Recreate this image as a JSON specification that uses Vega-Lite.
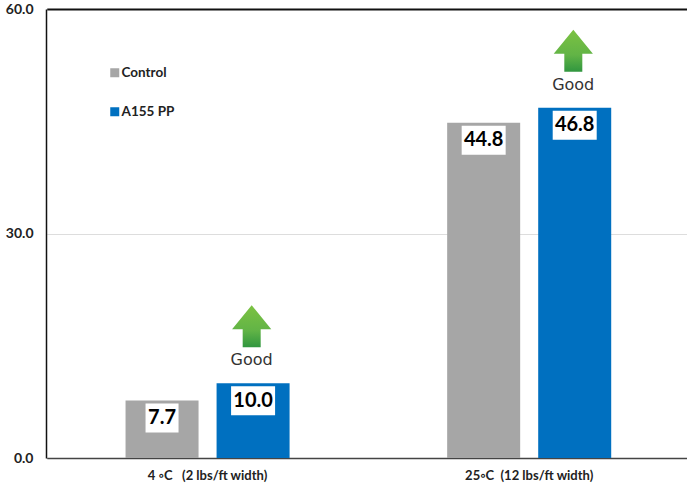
{
  "$schema": "https://vega.github.io/schema/vega-lite/v6.json",
  "width": 641,
  "height": 449,
  "autosize": {"type": "none"},
  "padding": {"left": 46, "top": 9, "right": 0, "bottom": 27},
  "background": "white",
  "view": {"stroke": null},
  "config": {"font": "Lato"},
  "data": {
    "values": [
      {"condition": "4 ◦C\u00a0\u00a0\u00a0(2 lbs/ft width)", "series": "Control", "value": 7.7},
      {"condition": "4 ◦C\u00a0\u00a0\u00a0(2 lbs/ft width)", "series": "A155 PP", "value": 10.0},
      {"condition": "25◦C\u00a0\u00a0(12 lbs/ft width)", "series": "Control", "value": 44.8},
      {"condition": "25◦C\u00a0\u00a0(12 lbs/ft width)", "series": "A155 PP", "value": 46.8}
    ]
  },
  "encoding": {
    "x": {
      "field": "condition",
      "type": "nominal",
      "sort": null,
      "title": null,
      "scale": {"range": [0.75, 644], "paddingInner": 0, "paddingOuter": 0},
      "axis": {
        "labelAngle": 0,
        "labelFontSize": 13,
        "labelFontWeight": "bold",
        "labelColor": "#222222",
        "labelPadding": 11,
        "ticks": false,
        "domainColor": "#444444",
        "domainWidth": 1.5
      }
    },
    "xOffset": {
      "field": "series",
      "type": "nominal",
      "scale": {"domain": ["Control", "A155 PP"], "paddingInner": 0.198, "paddingOuter": 0.8655}
    },
    "y": {
      "field": "value",
      "type": "quantitative",
      "title": null,
      "scale": {"domain": [0, 60], "nice": false},
      "axis": {
        "values": [0, 30, 60],
        "format": ".1f",
        "labelFontSize": 14,
        "labelFontWeight": "bold",
        "labelColor": "#222222",
        "labelPadding": 13,
        "ticks": false,
        "domainColor": "#111111",
        "domainWidth": 1.5,
        "grid": true,
        "gridColor": {"condition": {"test": "datum.value === 60", "value": "#111111"}, "value": "#dddddd"},
        "gridWidth": {"condition": {"test": "datum.value === 60", "value": 2}, "value": 1}
      }
    }
  },
  "layer": [
    {
      "mark": {"type": "bar"},
      "encoding": {
        "color": {
          "field": "series",
          "type": "nominal",
          "scale": {"domain": ["Control", "A155 PP"], "range": ["#a6a6a6", "#0070c0"]},
          "legend": {
            "title": null,
            "orient": "none",
            "legendX": 62,
            "legendY": 57,
            "symbolType": "square",
            "symbolSize": 81,
            "labelFontSize": 13.5,
            "labelFontWeight": "bold",
            "labelColor": "#222222",
            "labelOffset": 0,
            "rowPadding": 24
          }
        }
      }
    },
    {
      "mark": {"type": "tick", "color": "white", "thickness": 29, "opacity": 1, "yOffset": 17.5},
      "encoding": {
        "size": {"condition": {"test": "datum.value < 10", "value": 33}, "value": 44}
      }
    },
    {
      "mark": {"type": "text", "fontSize": 20, "fontWeight": "bold", "color": "black", "baseline": "middle", "yOffset": 17.5},
      "encoding": {"text": {"field": "value", "type": "quantitative", "format": ".1f"}}
    },
    {
      "transform": [{"filter": "datum.series === 'A155 PP'"}],
      "mark": {"type": "text", "text": "Good", "font": "DejaVu Sans", "fontSize": 16, "color": "#333333", "baseline": "middle", "yOffset": -23, "dx": -1.5}
    },
    {
      "transform": [{"filter": "datum.series === 'A155 PP'"}],
      "mark": {
        "type": "point",
        "filled": true,
        "opacity": 1,
        "size": 1600,
        "yOffset": -57,
        "shape": "M-0.07,-1.05L0.91,0.15H0.38V1.05H-0.52V0.15H-1.05Z",
        "fill": {
          "gradient": "linear",
          "x1": 0,
          "y1": 0,
          "x2": 0,
          "y2": 1,
          "stops": [
            {"offset": 0, "color": "#7cc242"},
            {"offset": 0.6, "color": "#62b446"},
            {"offset": 1, "color": "#30963f"}
          ]
        }
      }
    }
  ]
}
